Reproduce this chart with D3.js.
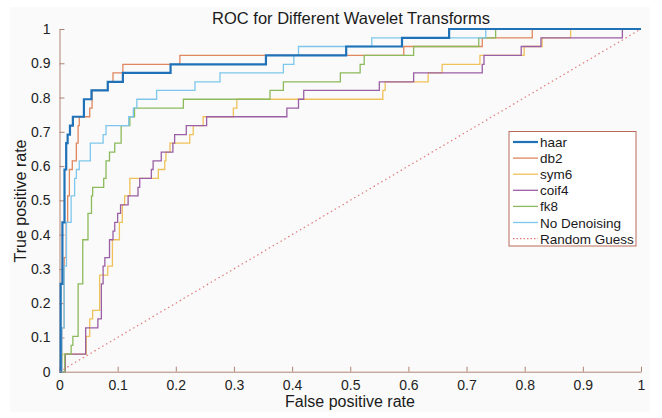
<!DOCTYPE html>
<html>
<head>
<meta charset="utf-8">
<script src="https://cdn.jsdelivr.net/npm/d3@7"></script>
<style>
  body { margin: 0; background: #fff; }
  text { font-family: "Liberation Sans", Arial, sans-serif; }
</style>
</head>
<body>
<div id="chart"></div>
<script>
// ROC points: [false positive rate, true positive rate], step happens at each fpr
const haar = [[0,0],[0.002,0.256],[0.005,0.436],[0.0086,0.590],[0.0115,0.667],[0.014,0.692],[0.018,0.718],[0.023,0.744],
  [0.042,0.795],[0.055,0.821],[0.083,0.846],[0.109,0.872],[0.191,0.897],[0.355,0.923],[0.493,0.949],[0.589,0.974],[0.670,1],[1,1]];
const db2 = [[0,0],[0.004,0.128],[0.008,0.333],[0.0115,0.436],[0.014,0.513],[0.017,0.590],[0.022,0.615],[0.029,0.667],
  [0.032,0.718],[0.034,0.744],[0.052,0.769],[0.056,0.821],[0.083,0.846],[0.092,0.872],[0.109,0.897],[0.207,0.923],
  [0.592,0.949],[0.727,0.974],[0.813,1],[1,1]];
const sym6 = [[0,0],[0.003,0.026],[0.005,0.051],[0.046,0.103],[0.052,0.154],[0.057,0.179],[0.069,0.282],[0.083,0.308],
  [0.091,0.385],[0.103,0.436],[0.108,0.487],[0.112,0.513],[0.121,0.564],[0.170,0.590],[0.181,0.615],[0.183,0.641],
  [0.190,0.667],[0.224,0.692],[0.230,0.718],[0.247,0.744],[0.299,0.769],[0.305,0.795],[0.556,0.821],[0.560,0.846],
  [0.634,0.872],[0.658,0.897],[0.723,0.923],[0.799,0.949],[0.830,0.974],[0.879,1],[1,1]];
const coif4 = [[0,0],[0.010,0.051],[0.045,0.128],[0.066,0.154],[0.072,0.256],[0.075,0.308],[0.078,0.333],[0.086,0.385],
  [0.092,0.410],[0.095,0.436],[0.100,0.462],[0.105,0.487],[0.118,0.513],[0.135,0.538],[0.138,0.564],[0.158,0.590],
  [0.161,0.615],[0.175,0.641],[0.195,0.667],[0.198,0.692],[0.218,0.718],[0.253,0.744],[0.391,0.769],[0.411,0.795],
  [0.420,0.821],[0.550,0.846],[0.609,0.872],[0.727,0.897],[0.730,0.923],[0.794,0.949],[0.828,0.974],[0.968,1],[1,1]];
const fk8 = [[0,0],[0.009,0.051],[0.020,0.077],[0.023,0.103],[0.032,0.256],[0.040,0.385],[0.049,0.462],[0.055,0.513],
  [0.057,0.538],[0.076,0.564],[0.080,0.615],[0.086,0.641],[0.095,0.667],[0.106,0.718],[0.121,0.744],[0.129,0.769],
  [0.213,0.795],[0.362,0.821],[0.385,0.846],[0.483,0.872],[0.517,0.897],[0.524,0.923],[0.609,0.949],[0.721,0.974],
  [0.750,1],[1,1]];
const noDenoising = [[0,0],[0.004,0.128],[0.008,0.308],[0.012,0.436],[0.020,0.513],[0.026,0.564],[0.029,0.590],
  [0.034,0.615],[0.053,0.667],[0.075,0.692],[0.080,0.718],[0.119,0.744],[0.127,0.769],[0.133,0.795],[0.167,0.821],
  [0.233,0.846],[0.276,0.872],[0.385,0.897],[0.403,0.923],[0.411,0.949],[0.537,0.974],[0.733,1],[1,1]];
const randomGuess = [[0,0],[1,1]];

const seriesNames = ["haar", "db2", "sym6", "coif4", "fk8", "No Denoising", "Random Guess"];
const seriesData = [haar, db2, sym6, coif4, fk8, noDenoising, randomGuess];
const seriesColors = ["#1f72b8", "#e0875e", "#efc15a", "#9b5fa5", "#8cba5c", "#7dc7ec", "#e07a7a"];

const xTicks = [0, 0.1, 0.2, 0.3, 0.4, 0.5, 0.6, 0.7, 0.8, 0.9, 1];
const xTickLabels = ["0", "0.1", "0.2", "0.3", "0.4", "0.5", "0.6", "0.7", "0.8", "0.9", "1"];
const yTicks = [0, 0.1, 0.2, 0.3, 0.4, 0.5, 0.6, 0.7, 0.8, 0.9, 1];
const yTickLabels = ["0", "0.1", "0.2", "0.3", "0.4", "0.5", "0.6", "0.7", "0.8", "0.9", "1"];

const width = 662, height = 418;
const axisColor = "#b08474";

const svg = d3.select("#chart").append("svg")
  .attr("width", width)
  .attr("height", height);

// light figure background
svg.append("rect")
  .attr("x", 10).attr("y", 7)
  .attr("width", 640).attr("height", 405)
  .attr("fill", "#fafafa");

const x = d3.scaleLinear().domain([0, 1]).range([59.5, 641]);
const y = d3.scaleLinear().domain([0, 1]).range([371.7, 29]);

// axes with inward ticks
const xAxis = svg.append("g")
  .attr("transform", `translate(0,${y(0)})`)
  .call(d3.axisBottom(x).tickValues(xTicks).tickFormat((d, i) => xTickLabels[i])
    .tickSizeInner(-5).tickSizeOuter(0).tickPadding(8));
const yAxis = svg.append("g")
  .attr("transform", `translate(${x(0)},0)`)
  .call(d3.axisLeft(y).tickValues(yTicks).tickFormat((d, i) => yTickLabels[i])
    .tickSizeInner(-5).tickSizeOuter(0).tickPadding(9));

[xAxis, yAxis].forEach(g => {
  g.select(".domain").attr("stroke", axisColor).attr("stroke-width", 1);
  g.selectAll(".tick line").attr("stroke", axisColor);
  g.selectAll(".tick text").attr("fill", "#222").style("font-size", "14px")
    .style("font-family", '"Liberation Sans", Arial, sans-serif');
});

// curves
const line = d3.line()
  .x(d => x(d[0]))
  .y(d => y(d[1]))
  .curve(d3.curveStepAfter);

const drawOrder = [1, 2, 3, 4, 5, 0];
drawOrder.forEach(i => {
  svg.append("path")
    .datum(seriesData[i])
    .attr("fill", "none")
    .attr("stroke", seriesColors[i])
    .attr("stroke-width", i === 0 ? 2.2 : 1.3)
    .attr("d", line);
});

svg.append("path")
  .datum(randomGuess)
  .attr("fill", "none")
  .attr("stroke", seriesColors[6])
  .attr("stroke-width", 1.2)
  .attr("stroke-dasharray", "1.5,3")
  .attr("d", d3.line().x(d => x(d[0])).y(d => y(d[1])));

// title and labels
svg.append("text")
  .attr("x", 351).attr("y", 24)
  .attr("text-anchor", "middle")
  .attr("fill", "#1a1a1a")
  .style("font-size", "16.5px")
  .text("ROC for Different Wavelet Transforms");

svg.append("text")
  .attr("x", 350).attr("y", 407)
  .attr("text-anchor", "middle")
  .attr("fill", "#1a1a1a")
  .style("font-size", "16px")
  .text("False positive rate");

svg.append("text")
  .attr("transform", "translate(26,201) rotate(-90)")
  .attr("text-anchor", "middle")
  .attr("fill", "#1a1a1a")
  .style("font-size", "16px")
  .text("True positive rate");

// legend
const legend = svg.append("g").attr("transform", "translate(509,131.5)");
legend.append("rect")
  .attr("width", 127).attr("height", 114.5)
  .attr("fill", "#fff")
  .attr("stroke", "#b86a5a")
  .attr("stroke-width", 1);

seriesNames.forEach((name, i) => {
  const row = legend.append("g").attr("transform", `translate(0,${10.5 + i * 16.1})`);
  row.append("line")
    .attr("x1", 4).attr("x2", 29)
    .attr("stroke", seriesColors[i])
    .attr("stroke-width", i === 0 ? 2.2 : 1.3)
    .attr("stroke-dasharray", i === 6 ? "1.5,2" : null);
  row.append("text")
    .attr("x", 31).attr("y", 5)
    .attr("fill", "#1a1a1a")
    .style("font-size", "13.5px")
    .text(name);
});
</script>
</body>
</html>
